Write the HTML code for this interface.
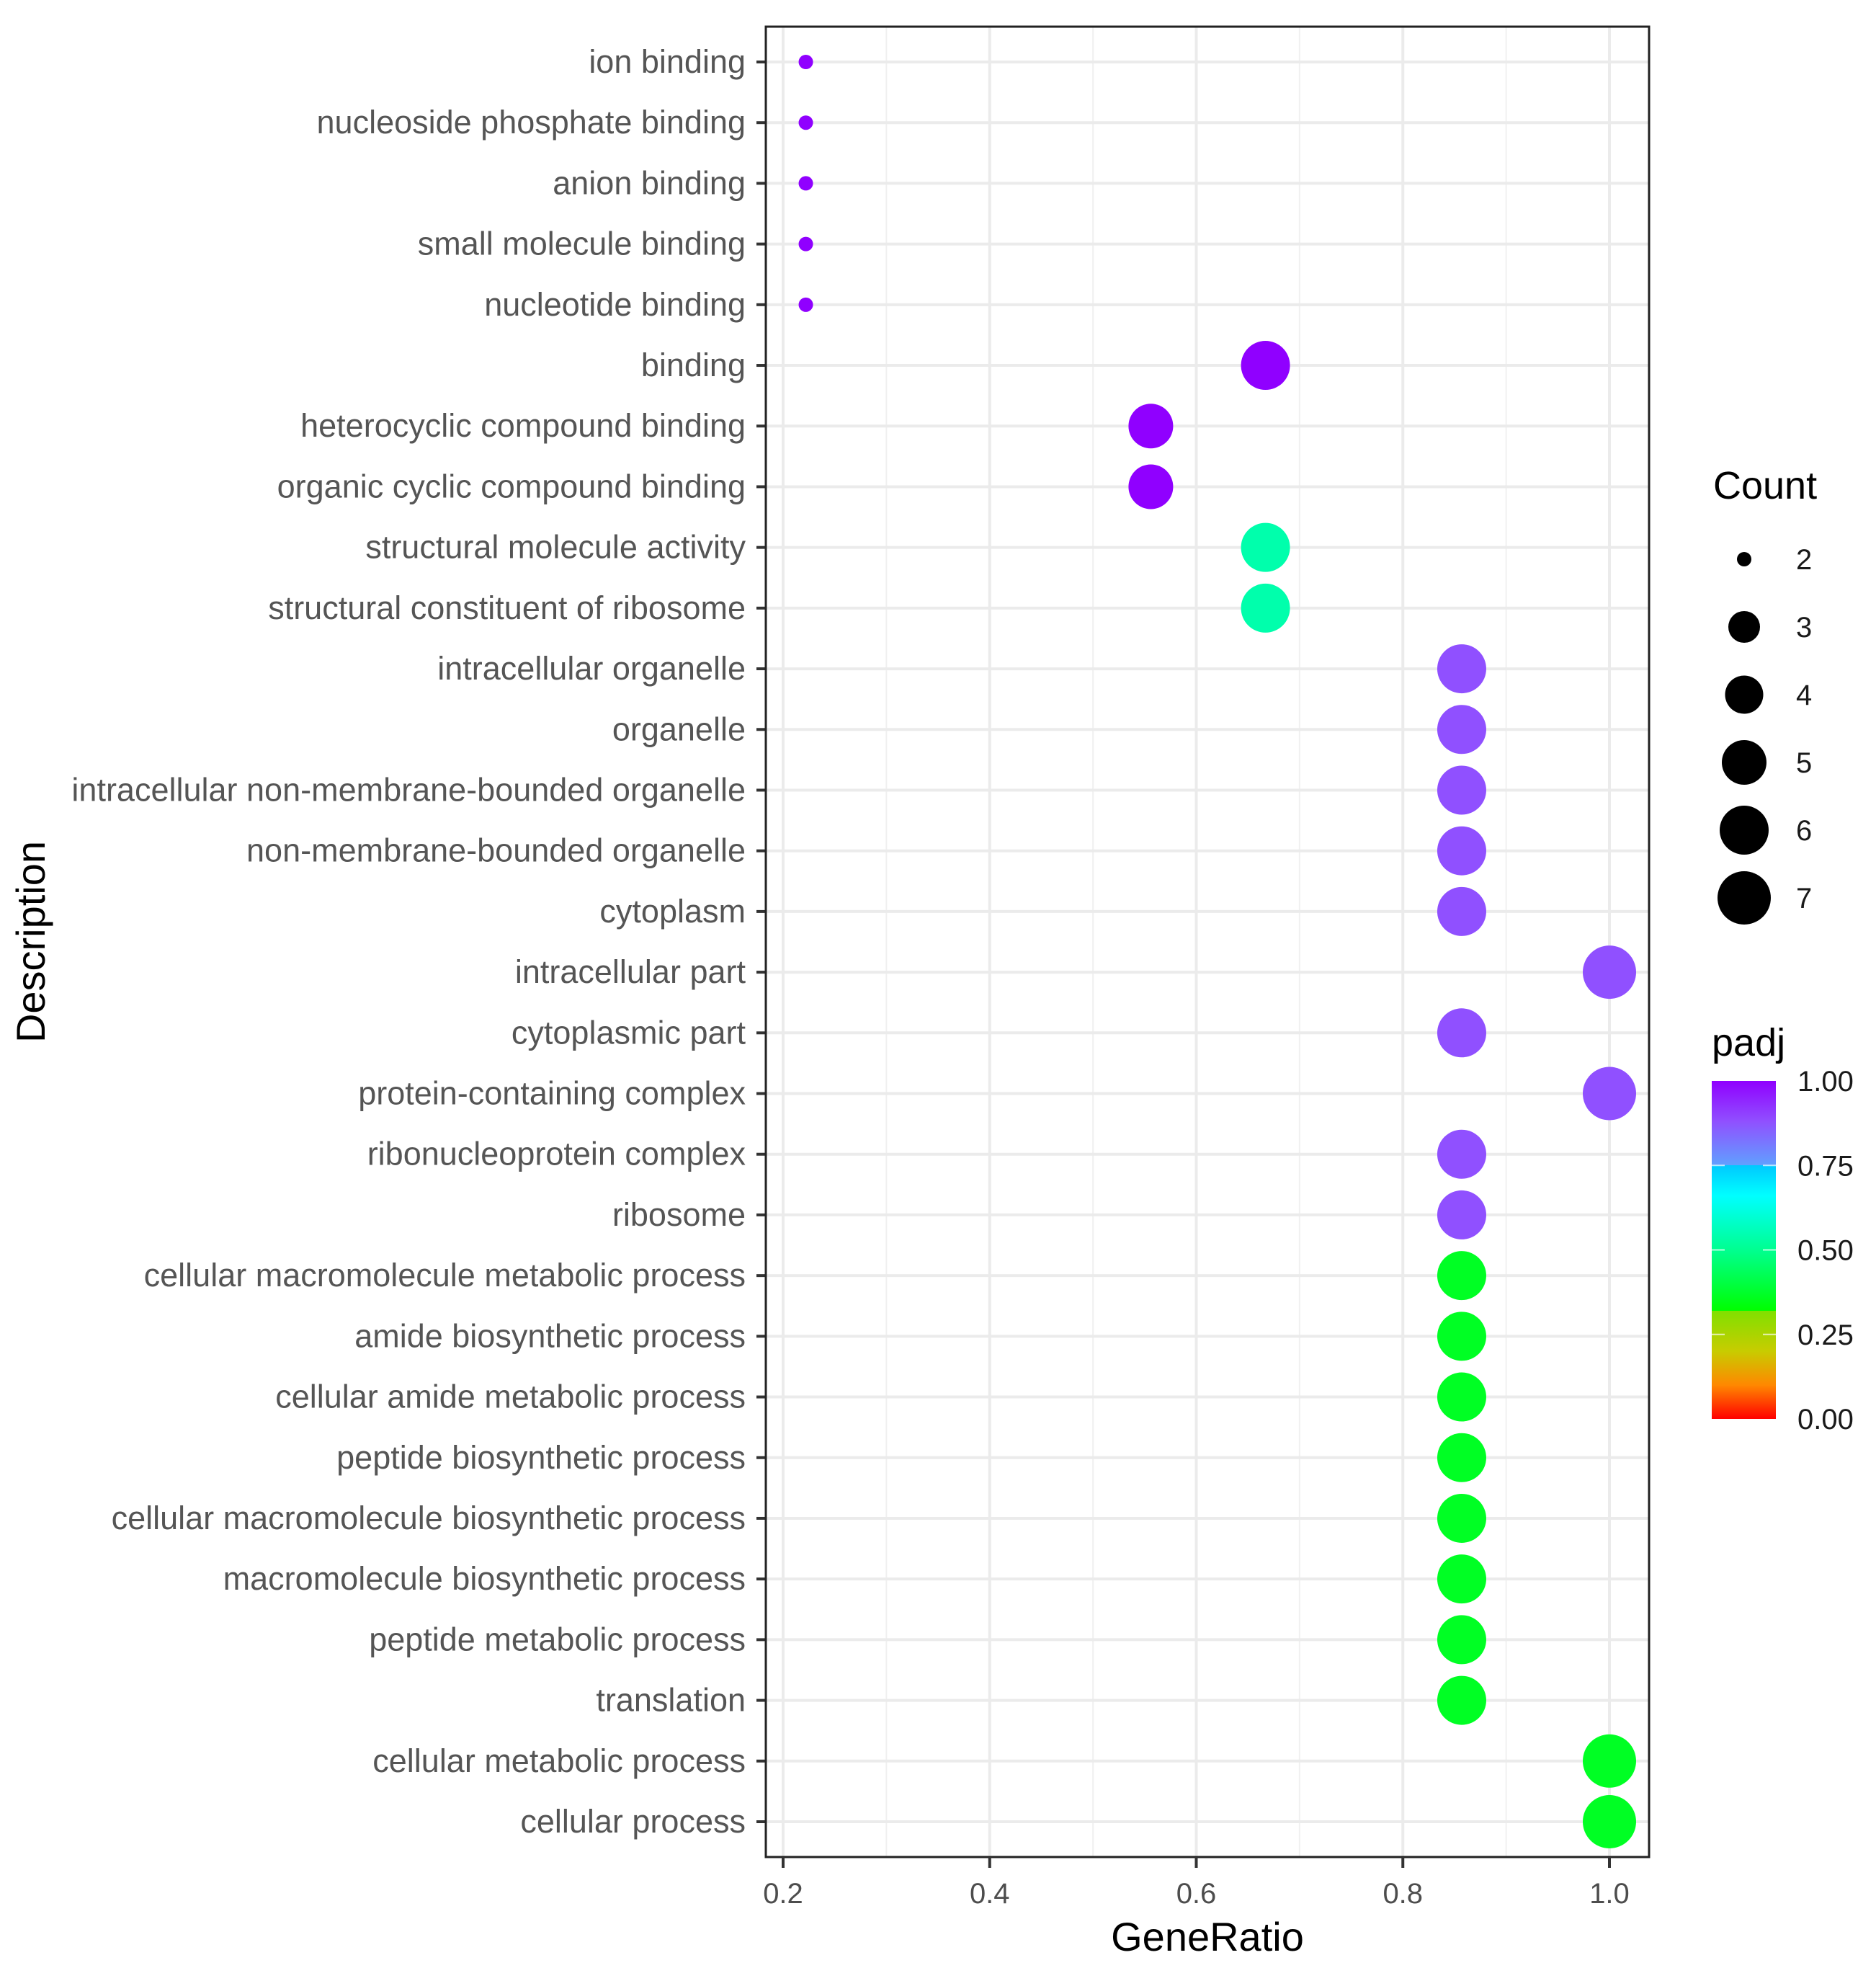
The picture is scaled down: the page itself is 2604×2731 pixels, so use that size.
<!DOCTYPE html>
<html><head><meta charset="utf-8"><style>
html,body{margin:0;padding:0;background:#fff;}
svg{display:block;font-family:"Liberation Sans",Arial,sans-serif;}
</style></head><body>
<svg id="chart" width="2604" height="2731" viewBox="0 0 2604 2731" xmlns="http://www.w3.org/2000/svg">
<defs>
<linearGradient id="padjGrad" x1="0" y1="1" x2="0" y2="0">
<stop offset="0" stop-color="#ff0000"/>
<stop offset="0.1" stop-color="#ff8800"/>
<stop offset="0.2" stop-color="#c8cc00"/>
<stop offset="0.32" stop-color="#80e000"/>
<stop offset="0.3201" stop-color="#00ff00"/>
<stop offset="0.5" stop-color="#00ff90"/>
<stop offset="0.66" stop-color="#00ffff"/>
<stop offset="0.75" stop-color="#00c8ff"/>
<stop offset="0.7501" stop-color="#60a0ff"/>
<stop offset="0.88" stop-color="#9050ff"/>
<stop offset="1" stop-color="#9000ff"/>
</linearGradient>
</defs>
<g id="grid"></g>
<g id="marks"></g>
<g id="axes"></g>
<g id="legend"></g>
</svg>
<script>
const categories = ["ion binding","nucleoside phosphate binding","anion binding","small molecule binding","nucleotide binding","binding","heterocyclic compound binding","organic cyclic compound binding","structural molecule activity","structural constituent of ribosome","intracellular organelle","organelle","intracellular non-membrane-bounded organelle","non-membrane-bounded organelle","cytoplasm","intracellular part","cytoplasmic part","protein-containing complex","ribonucleoprotein complex","ribosome","cellular macromolecule metabolic process","amide biosynthetic process","cellular amide metabolic process","peptide biosynthetic process","cellular macromolecule biosynthetic process","macromolecule biosynthetic process","peptide metabolic process","translation","cellular metabolic process","cellular process"];
const geneRatio = [0.222,0.222,0.222,0.222,0.222,0.667,0.556,0.556,0.667,0.667,0.857,0.857,0.857,0.857,0.857,1.0,0.857,1.0,0.857,0.857,0.857,0.857,0.857,0.857,0.857,0.857,0.857,0.857,1.0,1.0];
const counts = [2,2,2,2,2,6,5,5,6,6,6,6,6,6,6,7,6,7,6,6,6,6,6,6,6,6,6,6,7,7];
const padj = [1,1,1,1,1,1,1,1,0.54,0.54,0.88,0.88,0.88,0.88,0.88,0.88,0.88,0.88,0.88,0.88,0.365,0.365,0.365,0.365,0.365,0.365,0.365,0.365,0.365,0.365];
const xTicks = [0.2,0.4,0.6,0.8,1.0];
const xTickLabels = ["0.2","0.4","0.6","0.8","1.0"];
const xMinor = [0.3,0.5,0.7,0.9];
const sizeLegendCounts = [2,3,4,5,6,7];
const padjTicks = [0,0.25,0.5,0.75,1];
const padjTickLabels = ["0.00","0.25","0.50","0.75","1.00"];

const NS="http://www.w3.org/2000/svg";
const P={l:1063,r:2289,t:37,b:2577};
function xs(v){return 1087+(v-0.2)*(2234-1087)/0.8;}
function ys(i){return 86+i*(2528-86)/29;}
const radiusTable={2:10,3:22,4:26.5,5:31,6:34,7:37};
function rs(c){return radiusTable[c];}
const stops=[[0,[255,0,0]],[0.1,[255,136,0]],[0.2,[200,204,0]],[0.32,[128,224,0]],[0.3201,[0,255,0]],[0.5,[0,255,144]],[0.66,[0,255,255]],[0.75,[0,200,255]],[0.7501,[96,160,255]],[0.88,[144,80,255]],[1,[144,0,255]]];
function col(v){for(let k=1;k<stops.length;k++){if(v<=stops[k][0]){const a=stops[k-1],b=stops[k];const t=(v-a[0])/(b[0]-a[0]);return "rgb("+a[1].map((c,j)=>Math.round(c+(b[1][j]-c)*t)).join(",")+")";}}return "rgb(144,0,255)";}
function mk(tag,attrs,parent,text){const e=document.createElementNS(NS,tag);for(const k in attrs)e.setAttribute(k,attrs[k]);if(text!==undefined)e.textContent=text;parent.appendChild(e);return e;}
const grid=document.getElementById('grid'),marks=document.getElementById('marks'),axes=document.getElementById('axes'),legend=document.getElementById('legend');

let e=mk('rect',{x:P.l,y:P.t,width:P.r-P.l,height:P.b-P.t,fill:'#fff'},grid);


xMinor.forEach(v=>{const l=mk('line',{x1:xs(v),x2:xs(v),y1:P.t,y2:P.b,stroke:'#f0f0f0','stroke-width':2},grid);

});
xTicks.forEach(v=>{const l=mk('line',{x1:xs(v),x2:xs(v),y1:P.t,y2:P.b,stroke:'#ebebeb','stroke-width':4},grid);

});
categories.forEach((c,i)=>{const l=mk('line',{x1:P.l,x2:P.r,y1:ys(i),y2:ys(i),stroke:'#ebebeb','stroke-width':4},grid);

});

categories.forEach((c,i)=>{const d=mk('circle',{cx:xs(geneRatio[i]),cy:ys(i),r:rs(counts[i]),fill:col(padj[i])},marks);


const t=mk('text',{x:1035,y:ys(i)+15,'text-anchor':'end','font-size':45,fill:'#555'},axes,c);


const tk=mk('line',{x1:1050,x2:P.l,y1:ys(i),y2:ys(i),stroke:'#333','stroke-width':4},axes);

});

e=mk('rect',{x:P.l,y:P.t,width:P.r-P.l,height:P.b-P.t,fill:'none',stroke:'#222','stroke-width':3},axes);


xTicks.forEach((v,i)=>{const tk=mk('line',{x1:xs(v),x2:xs(v),y1:P.b,y2:P.b+15,stroke:'#333','stroke-width':4},axes);


const t=mk('text',{x:xs(v),y:2641,'text-anchor':'middle','font-size':40,fill:'#4d4d4d'},axes,xTickLabels[i]);

});
e=mk('text',{x:1676,y:2707,'text-anchor':'middle','font-size':56,fill:'#000'},axes,'GeneRatio');


e=mk('text',{x:62,y:1307,'text-anchor':'middle','font-size':56,fill:'#000',transform:'rotate(-90 62 1307)'},axes,'Description');



e=mk('text',{x:2378,y:692,'font-size':54,fill:'#000'},legend,'Count');


sizeLegendCounts.forEach((c,i)=>{const y=776+i*94;
const d=mk('circle',{cx:2421,cy:y,r:rs(c),fill:'#000'},legend);


const t=mk('text',{x:2493,y:y+14,'font-size':40,fill:'#1a1a1a'},legend,String(c));

});

e=mk('text',{x:2376,y:1465,'font-size':54,fill:'#000'},legend,'padj');


const cbTop=1500,cbBot=1969;
e=mk('rect',{x:2376,y:cbTop,width:89,height:cbBot-cbTop,fill:'url(#padjGrad)'},legend);


padjTicks.forEach((v,i)=>{const y=cbBot-v*(cbBot-cbTop);
if(v>0&&v<1){const a=mk('line',{x1:2376,x2:2394,y1:y,y2:y,stroke:'#fff','stroke-width':2,opacity:0.7},legend);


const b=mk('line',{x1:2447,x2:2465,y1:y,y2:y,stroke:'#fff','stroke-width':2,opacity:0.7},legend);

}
const t=mk('text',{x:2495,y:y+14,'font-size':40,fill:'#1a1a1a'},legend,padjTickLabels[i]);

});
</script>
</body></html>
